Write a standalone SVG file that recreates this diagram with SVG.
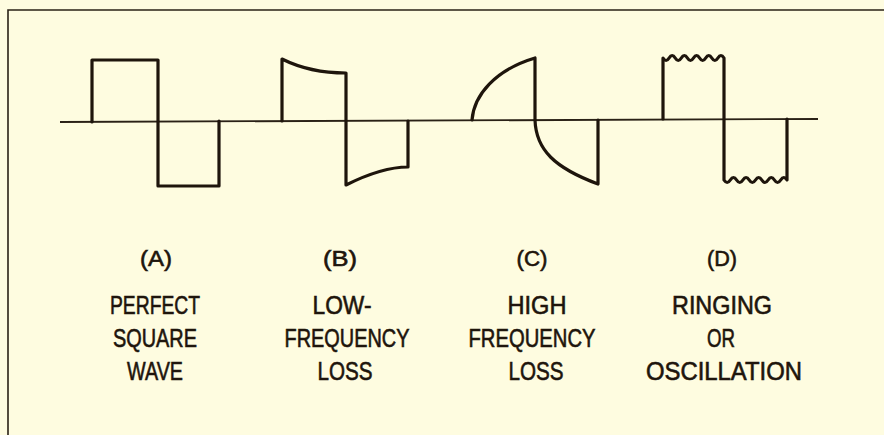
<svg xmlns="http://www.w3.org/2000/svg" width="884" height="435" viewBox="0 0 884 435">
<style>
.bg{fill:#fefce0}
.frame{fill:none;stroke:#2a2116;stroke-width:1.6}
.axis{fill:none;stroke:#2a2116;stroke-width:1.8}
.wave{fill:none;stroke:#1e150c;stroke-width:3.2;stroke-linejoin:round;stroke-linecap:round}
text{font-family:"Liberation Sans",Arial,sans-serif;fill:#1e150c;stroke:#1e150c;stroke-width:0.6;text-anchor:middle}
.tag{font-size:22px}
.cap{font-size:25px}
</style>
<rect class="bg" x="0" y="0" width="884" height="435"/>
<path class="frame" d="M8,435 V10 H884"/>
<g id="connectors">
<path class="axis" d="M60,122 L818,119"/>
</g>
<g id="waveA">
<path class="wave" d="M92,122 V60 H158 V186 H219 V121"/>
<text class="tag" x="156" y="266" textLength="32" lengthAdjust="spacingAndGlyphs">(A)</text>
<text class="cap" x="155" y="314" textLength="90" lengthAdjust="spacingAndGlyphs">PERFECT</text>
<text class="cap" x="155" y="347" textLength="84" lengthAdjust="spacingAndGlyphs">SQUARE</text>
<text class="cap" x="155" y="380" textLength="56" lengthAdjust="spacingAndGlyphs">WAVE</text>
</g>
<g id="waveB">
<path class="wave" d="M282,121 V59 Q310,73 346,73 V185 Q382,167 408,167 V121"/>
<text class="tag" x="340" y="266" textLength="34" lengthAdjust="spacingAndGlyphs">(B)</text>
<text class="cap" x="342" y="314" textLength="59" lengthAdjust="spacingAndGlyphs">LOW-</text>
<text class="cap" x="347" y="347" textLength="125" lengthAdjust="spacingAndGlyphs">FREQUENCY</text>
<text class="cap" x="345" y="380" textLength="55" lengthAdjust="spacingAndGlyphs">LOSS</text>
</g>
<g id="waveC">
<path class="wave" d="M472,120 C474,95 495,70 535,58 V120 C536,150 555,168 598,184 V120"/>
<text class="tag" x="532" y="266" textLength="31" lengthAdjust="spacingAndGlyphs">(C)</text>
<text class="cap" x="537" y="314" textLength="59" lengthAdjust="spacingAndGlyphs">HIGH</text>
<text class="cap" x="532" y="347" textLength="127" lengthAdjust="spacingAndGlyphs">FREQUENCY</text>
<text class="cap" x="536" y="380" textLength="55" lengthAdjust="spacingAndGlyphs">LOSS</text>
</g>
<g id="waveD">
<path class="wave" d="M663,119 V58 q3.05,5 6.1,0 t6.1,0 t6.1,0 t6.1,0 t6.1,0 t6.1,0 t6.1,0 t6.1,0 t6.1,0 t6.1,0 V180 q3.15,5 6.3,0 t6.3,0 t6.3,0 t6.3,0 t6.3,0 t6.3,0 t6.3,0 t6.3,0 t6.3,0 t6.3,0 V119"/>
<text class="tag" x="722" y="266" textLength="30" lengthAdjust="spacingAndGlyphs">(D)</text>
<text class="cap" x="722" y="314" textLength="100" lengthAdjust="spacingAndGlyphs">RINGING</text>
<text class="cap" x="721" y="347" textLength="28" lengthAdjust="spacingAndGlyphs">OR</text>
<text class="cap" x="724" y="380" textLength="156" lengthAdjust="spacingAndGlyphs">OSCILLATION</text>
</g>
</svg>
